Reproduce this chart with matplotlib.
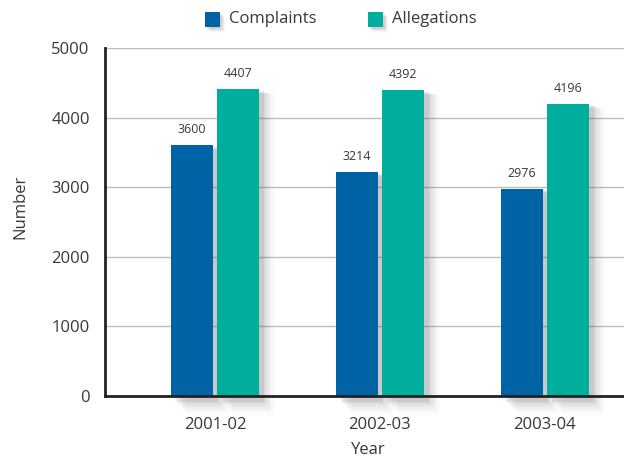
import matplotlib
matplotlib.use("Agg")
import matplotlib.pyplot as plt
import numpy as np
from matplotlib.patches import Rectangle

years = ["2001-02", "2002-03", "2003-04"]
complaints = [3600, 3214, 2976]
allegations = [4407, 4392, 4196]
series_names = ["Complaints", "Allegations"]
colors = ["#0063A6", "#00AE9D"]
yticks = [0, 1000, 2000, 3000, 4000, 5000]

plt.rcParams['font.family'] = ['Open Sans', 'DejaVu Sans']

fig = plt.figure(figsize=(6.24, 4.62), dpi=100)
ax = fig.add_axes([105/624, 1-396/462, 1-105/624, (396-48)/462])

x = np.arange(len(years))
w = 0.255
off = 0.139
txtc = "#383838"

# soft shadows
layers = [(0.09, 120, 0.035), (0.075, 100, 0.045), (0.06, 80, 0.06),
          (0.045, 60, 0.08), (0.03, 40, 0.11)]
for vals, dx in ((complaints, -off), (allegations, off)):
    for sx, sy, a in layers:
        ax.bar(x + dx + sx, np.array(vals) - sy * 0.6 + 2 * sy, width=w, bottom=-2 * sy,
               color="#4a4a55", alpha=a, zorder=1.5, linewidth=0, clip_on=False)

b1 = ax.bar(x - off, complaints, width=w, color=colors[0], zorder=3, linewidth=0)
b2 = ax.bar(x + off, allegations, width=w, color=colors[1], zorder=3, linewidth=0)

for bars, vals in ((b1, complaints), (b2, allegations)):
    for r, v in zip(bars, vals):
        ax.text(r.get_x() + r.get_width()/2, v + 130, str(v), ha="center", va="bottom",
                fontsize=9, color=txtc, zorder=4)

ax.set_xlim(-0.667, 2.48)
ax.set_ylim(0, 5000)
ax.set_yticks(yticks)
ax.set_xticks(x)
ax.set_xticklabels(years)
ax.tick_params(axis="both", length=0, labelsize=12, colors=txtc)
ax.tick_params(axis="y", pad=11)
ax.tick_params(axis="x", pad=15)
ax.yaxis.grid(True, color="#BDBDBD", linewidth=1)
ax.set_axisbelow(True)
for s in ("top", "right"):
    ax.spines[s].set_visible(False)
for s in ("left", "bottom"):
    ax.spines[s].set_color("#222222")
    ax.spines[s].set_linewidth(2)
    ax.spines[s].set_zorder(5)

ax.set_ylabel("Number", fontsize=12, color=txtc)
ax.yaxis.label.set_va("center")
ax.yaxis.set_label_coords((20-105)/519, (396-207)/348)
ax.set_xlabel("Year", fontsize=12, color=txtc)
ax.xaxis.label.set_va("center")
ax.xaxis.set_label_coords((368-105)/519, (396-450)/348)

# legend
for px, name, c in ((205, series_names[0], colors[0]), (368, series_names[1], colors[1])):
    for k, a in ((5, 0.04), (4, 0.06), (3, 0.08), (2, 0.1)):
        fig.patches.append(Rectangle(((px+k)/624, 1-(27+k)/462), 15/624, 15/462,
                                     transform=fig.transFigure, color="#4a4a55",
                                     alpha=a, linewidth=0, zorder=4))
    fig.patches.append(Rectangle((px/624, 1-27/462), 15/624, 15/462, transform=fig.transFigure,
                                 color=c, zorder=5, linewidth=0))
    fig.text((px+24)/624, 1-19/462, name, ha="left", va="center", fontsize=12, color=txtc)

fig.savefig("out.png", dpi=100, facecolor="white")
